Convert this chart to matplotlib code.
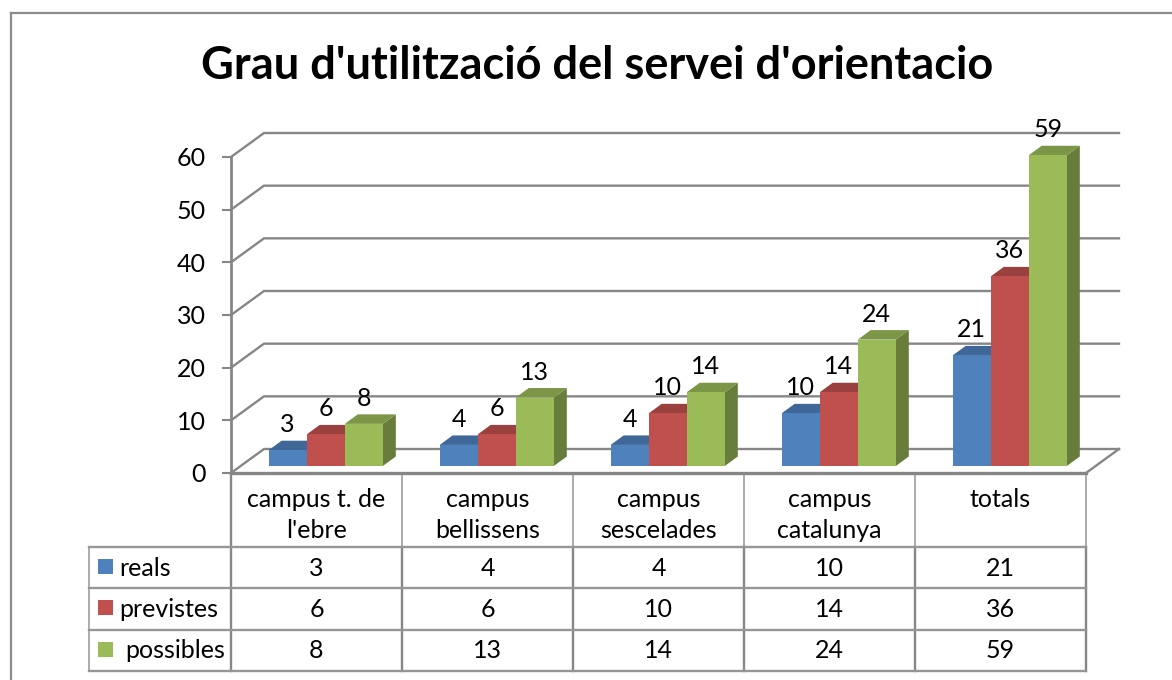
import matplotlib
matplotlib.use('Agg')
import matplotlib.pyplot as plt
from matplotlib.patches import Polygon, Rectangle

categories = ['campus t. de\nl\'ebre', 'campus\nbellissens', 'campus\nsescelades', 'campus\ncatalunya', 'totals']
reals = [3, 4, 4, 10, 21]
previstes = [6, 6, 10, 14, 36]
possibles = [8, 13, 14, 24, 59]
series_names = ['reals', 'previstes', 'possibles']
y_ticks = [0, 10, 20, 30, 40, 50, 60]
title = "Grau d'utilització del servei d'orientacio"

front = ['#4f81bd', '#c0504d', '#9bbb59']
top = ['#3f6797', '#9a403e', '#7c9647']
side = ['#35567f', '#813634', '#687d3b']
GRID = '#868686'
W, H = 1172, 680
FS = 18

plt.rcParams['font.family'] = ['Lato', 'DejaVu Sans']
fig = plt.figure(figsize=(W / 100, H / 100), dpi=100)

# overlay in pixels for frame, title and the table
page = fig.add_axes([0, 0, 1, 1])
page.set_xlim(0, W)
page.set_ylim(H, 0)
page.axis('off')

# front plane of the 3d box
ax = fig.add_axes([231 / W, 1 - 473 / H, 855 / W, 316 / H])
ax.set_xlim(0, 5)
ax.set_ylim(0, 60)
ax.patch.set_alpha(0)
for s in ['top', 'right', 'bottom']:
    ax.spines[s].set_visible(False)
ax.spines['left'].set_color(GRID)
ax.spines['left'].set_linewidth(2)
ax.set_xticks([])
ax.set_yticks(y_ticks)
ax.tick_params(axis='y', length=6.5, width=1.5, color=GRID, labelsize=FS, pad=11.5)

wall_dx = 33 / 171
wall_dy = 24 / 5.267
for v in y_ticks:
    ax.plot([0, wall_dx, 5 + wall_dx], [v, v + wall_dy, v + wall_dy], color=GRID, lw=1.7,
            clip_on=False, zorder=1, solid_joinstyle='miter')
ax.plot([5, 5 + wall_dx], [0, wall_dy], color=GRID, lw=1.7, clip_on=False, zorder=1)
ax.plot([0, 5], [0, 0], color=GRID, lw=2.4, clip_on=False, zorder=1)

# bars
bar_w = 38.1 / 171.2
start = 37.7 / 171.2
base = 7 / 5.267
dx = 13 / 171.2
dy = 9.5 / 5.267
for i, vals in enumerate([reals, previstes, possibles]):
    for c, v in enumerate(vals):
        x0 = c + start + i * bar_w
        x1 = x0 + bar_w
        y1 = base + v
        ax.add_patch(Polygon([(x1, base), (x1 + dx, base + dy), (x1 + dx, y1 + dy), (x1, y1)],
                             fc=side[i], ec='none', clip_on=False, zorder=3))
        ax.add_patch(Polygon([(x0, y1), (x0 + dx, y1 + dy), (x1 + dx, y1 + dy), (x1, y1)],
                             fc=top[i], ec='none', clip_on=False, zorder=3))
        ax.bar(x0, v, bar_w, bottom=base, align='edge', color=front[i], clip_on=False, zorder=3)
        ax.annotate(str(v), (x0 + bar_w / 2, y1 + dy), xytext=(0, 11.5), textcoords='offset points',
                    ha='center', va='center', fontsize=FS, zorder=5, annotation_clip=False)

# outer frame
page.plot([11, 11], [H, 13], color='#8c8c8c', lw=1.6)
page.plot([11, W], [13, 13], color='#8c8c8c', lw=1.6)
page.text(597, 66, title, ha='center', va='center', fontsize=32.5, fontweight='bold')

# data table
col_x = [231 + 171 * i for i in range(6)]
row_y = [547, 588, 629.5, 671]
for x in col_x[1:]:
    page.plot([x, x], [473, 547], color='#a6a6a6', lw=1.3)
page.plot([col_x[0], col_x[0]], [473, 671], color=GRID, lw=1.7)
for x in col_x[1:]:
    page.plot([x, x], [547, 671], color=GRID, lw=1.7)
page.plot([88.5, 88.5], [547, 671], color='#a6a6a6', lw=1.3)
for y in row_y:
    page.plot([88.5, col_x[-1]], [y, y], color='#969696', lw=1.7)

for c, label in enumerate(categories):
    page.text((col_x[c] + col_x[c + 1]) / 2, 488, label, ha='center', va='top', fontsize=FS,
              linespacing=1.42)

for r, vals in enumerate([reals, previstes, possibles]):
    cy = (row_y[r] + row_y[r + 1]) / 2
    page.add_patch(Rectangle((98, cy - 8.5), 15, 15, fc=front[r], ec='none'))
    page.text(125 if r == 2 else 119, cy + 0.5, series_names[r], ha='left', va='center', fontsize=FS)
    for c, v in enumerate(vals):
        page.text((col_x[c] + col_x[c + 1]) / 2, cy + 0.5, str(v), ha='center', va='center', fontsize=FS)

fig.savefig('out.png', dpi=100)
